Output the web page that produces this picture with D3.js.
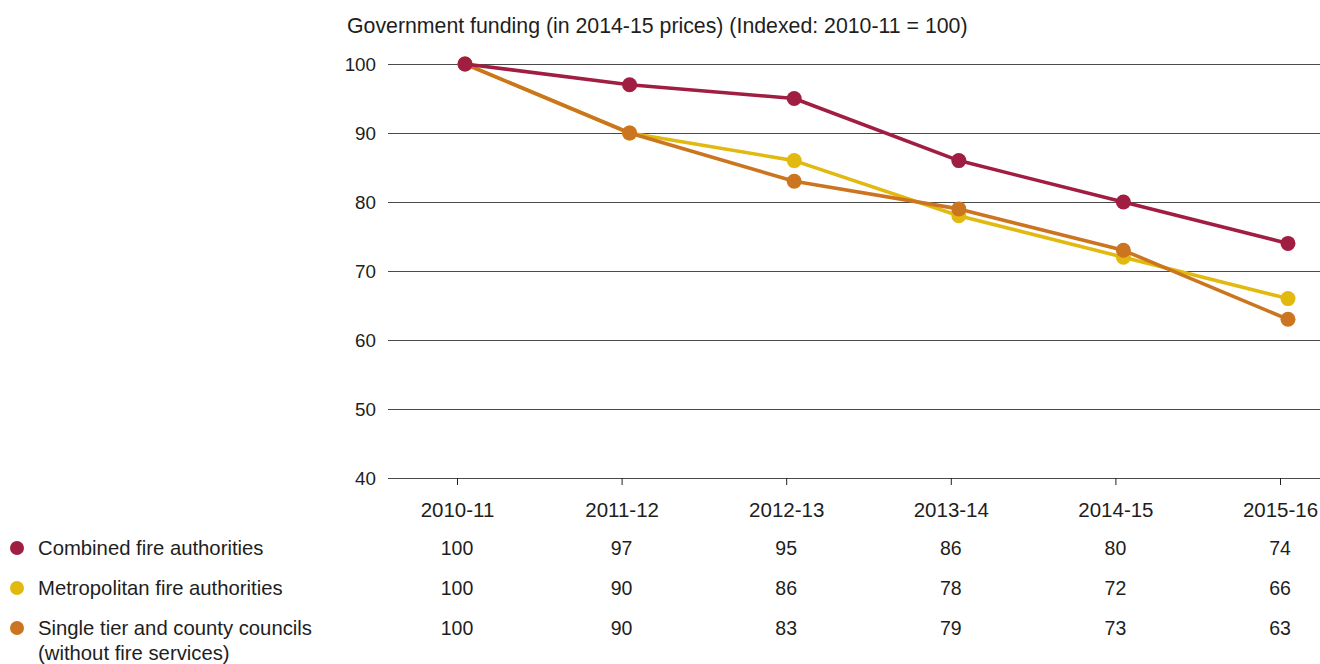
<!DOCTYPE html>
<html>
<head>
<meta charset="utf-8">
<script src="https://cdn.jsdelivr.net/npm/d3@7"></script>
<style>
  html, body { margin: 0; padding: 0; background: #fff; }
  svg { display: block; font-family: "Liberation Sans", Arial, sans-serif; }
</style>
</head>
<body>
<svg id="chart" width="1320" height="664"></svg>
<script>
// Financial years on the horizontal axis
const years = ["2010-11", "2011-12", "2012-13", "2013-14", "2014-15", "2015-16"];

// Indexed government funding per authority type (2010-11 = 100)
const combined = [100, 97, 95, 86, 80, 74];
const metropolitan = [100, 90, 86, 78, 72, 66];
const singleTier = [100, 90, 83, 79, 73, 63];

const seriesNames = [
  ["Combined fire authorities"],
  ["Metropolitan fire authorities"],
  ["Single tier and county councils", "(without fire services)"]
];
const seriesColors = ["#a01e42", "#e2b90f", "#cc7520"];
const yTicks = [40, 50, 60, 70, 80, 90, 100];
const title = "Government funding (in 2014-15 prices) (Indexed: 2010-11 = 100)";

const series = [combined, metropolitan, singleTier].map((values, i) => ({
  name: seriesNames[i],
  color: seriesColors[i],
  values
}));

const textColor = "#1e1e1e";
const svg = d3.select("#chart");

const x = d3.scalePoint().domain(years).range([457, 1280]);
const markShift = 8; // markers sit slightly right of the tick marks
const y = d3.scaleLinear().domain([40, 100]).range([478, 64]);

const gridLeft = 388, gridRight = 1320;

// Title
svg.append("text")
  .attr("x", 347).attr("y", 33)
  .attr("font-size", 21.3).attr("fill", textColor)
  .text(title);

// Horizontal gridlines and value labels
const yAxis = d3.axisLeft(y).tickValues(yTicks).tickSize(-(gridRight - gridLeft)).tickPadding(12);
const gy = svg.append("g").attr("transform", `translate(${gridLeft},0)`).call(yAxis);
gy.select(".domain").remove();
gy.selectAll(".tick line").attr("stroke", "#4a4a4a").attr("stroke-width", 1);
gy.selectAll(".tick text")
  .attr("font-size", 18.8).attr("fill", textColor)
  .attr("font-family", "Liberation Sans, Arial, sans-serif");

// Category axis with small ticks under the baseline
const xAxis = d3.axisBottom(x).tickSize(7).tickPadding(17);
const gx = svg.append("g").attr("transform", `translate(0,${y(40)})`).call(xAxis);
gx.select(".domain").remove();
gx.selectAll(".tick line").attr("stroke", "#222");
gx.selectAll(".tick text")
  .attr("font-size", 20.5).attr("fill", textColor)
  .attr("font-family", "Liberation Sans, Arial, sans-serif");

// Lines and markers; the first series is drawn last so it sits on top
const line = d3.line()
  .x((d, i) => x(years[i]) + markShift)
  .y(d => y(d));

const drawOrder = [series[1], series[2], series[0]];
const gs = svg.append("g").selectAll("g").data(drawOrder).join("g");
gs.append("path")
  .attr("d", d => line(d.values))
  .attr("fill", "none")
  .attr("stroke", d => d.color)
  .attr("stroke-width", 3.6)
  .attr("stroke-linejoin", "round");
gs.selectAll("circle")
  .data(d => d.values.map((v, i) => ({ v, i, color: d.color })))
  .join("circle")
  .attr("cx", d => x(years[d.i]) + markShift)
  .attr("cy", d => y(d.v))
  .attr("r", 7.5)
  .attr("fill", d => d.color);

// Legend with data table beneath the chart
const rowY = [548, 588, 628];
const rows = svg.append("g").selectAll("g").data(series).join("g")
  .attr("transform", (d, i) => `translate(0,${rowY[i]})`);
rows.append("circle").attr("cx", 17).attr("cy", 0).attr("r", 7).attr("fill", d => d.color);
rows.append("text")
  .attr("x", 38).attr("y", 0)
  .attr("font-size", 20.3).attr("fill", textColor)
  .selectAll("tspan").data(d => d.name).join("tspan")
  .attr("x", 38).attr("dy", (d, i) => i === 0 ? "0.35em" : "25px")
  .text(d => d);
rows.selectAll("text.val")
  .data(d => d.values)
  .join("text")
  .attr("class", "val")
  .attr("x", (d, i) => x(years[i]))
  .attr("y", 0).attr("dy", "0.35em")
  .attr("text-anchor", "middle")
  .attr("font-size", 19.5).attr("fill", textColor)
  .text(d => d);
</script>
</body>
</html>
